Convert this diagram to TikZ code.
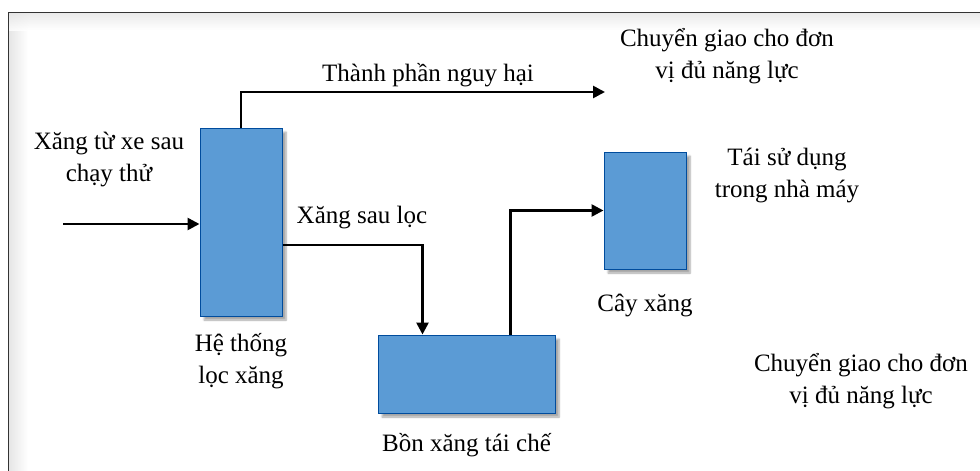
\documentclass[tikz,border=0pt]{standalone}
\usepackage{fontspec}
\setmainfont{Liberation Serif}
\usepackage{tikz}
\usetikzlibrary{arrows.meta,positioning,shadows.blur}

\begin{document}
\begin{tikzpicture}[
    x=1pt, y=-1pt,
    every node/.style={font=\fontsize{25}{32}\selectfont},
    unitbox/.style={
      rectangle, draw=blue!45!black!70!cyan, line width=1pt,
      fill={rgb,255:red,91;green,155;blue,213}, inner sep=0pt,
      blur shadow={shadow xshift=4pt, shadow yshift=-4pt, shadow opacity=35, shadow blur steps=6}
    },
    txt/.style={align=center, inner sep=1pt},
    flow/.style={-{Triangle[length=12pt, width=12pt]}, line width=2.6pt, black}
  ]
    \useasboundingbox (0,0) rectangle (980,471);

    % -- frame with a soft inner shade --
    \shade[left color=black!10, right color=white] (9,13) rectangle (28,471);
    \shade[top color=black!10, bottom color=white, opacity=0.8] (9,13) rectangle (980,30);
    \draw[line width=1.3pt, black!80] (8.5,471) -- (8.5,12.5) -- (980,12.5);

    % -- units --
    \node[unitbox, minimum width=82pt, minimum height=188pt] (loc) at (241,222) {};
    \node[unitbox, minimum width=177pt, minimum height=78pt] (bon) at (466.5,374) {};
    \node[unitbox, minimum width=82pt, minimum height=117pt] (cay) at (645,210.5) {};

    % -- captions under the units --
    \node[txt, below=16pt of loc] (locname) {Hệ thống\\lọc xăng};
    \node[txt, below=19pt of bon] (bonname) {Bồn xăng tái chế};
    \node[txt, below=23pt of cay] (cayname) {Cây xăng};

    % -- free ends of the flows --
    \coordinate (in) at (63,224);
    \coordinate (haz) at (605,92);

    % -- flows --
    \draw[flow] (in) -- (in -| loc.west);
    \draw[flow] (loc.north) |- (haz);
    \draw[flow] ([yshift=-23pt]loc.east) -| ([xshift=-44pt]bon.north);
    \draw[flow] ([xshift=44pt]bon.north) |- (cay.west);

    % -- flow labels --
    \node[txt] (inname) at (109,160) {Xăng từ xe sau\\chạy thử};
    \node[txt] (hazname) at (428,75) {Thành phần nguy hại};
    \node[txt] (outname) at (362,218) {Xăng sau lọc};
    \node[txt] (hazdest) at (727,56) {Chuyển giao  cho đơn\\vị đủ năng lực};
    \node[txt] (reuse) at (787,176) {Tái  sử dụng\\trong nhà máy};
    \node[txt] (bondest) at (861,381) {Chuyển giao  cho đơn\\vị đủ năng lực};
\end{tikzpicture}
\end{document}
